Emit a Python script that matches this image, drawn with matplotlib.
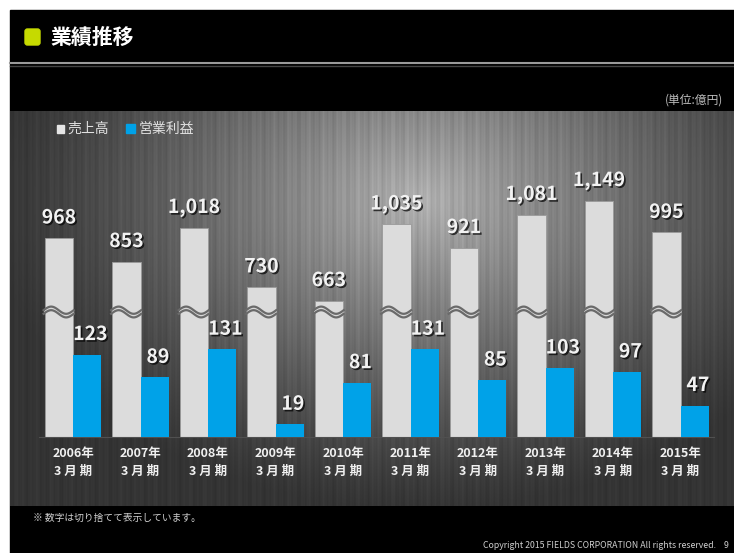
import matplotlib
matplotlib.use("Agg")
import matplotlib.pyplot as plt
import matplotlib.patheffects as pe
from matplotlib.patches import Rectangle, FancyBboxPatch
import numpy as np

plt.rcParams['font.family'] = ['Noto Sans CJK JP', 'DejaVu Sans']

# data (億円)
years = ["2006年", "2007年", "2008年", "2009年", "2010年",
         "2011年", "2012年", "2013年", "2014年", "2015年"]
sales = [968, 853, 1018, 730, 663, 1035, 921, 1081, 1149, 995]
op_profit = [123, 89, 131, 19, 81, 131, 85, 103, 97, 47]

W, H = 734, 553
fig = plt.figure(figsize=(W / 100, H / 100), dpi=100)
fig.patch.set_facecolor("white")

# background layer in pixel coords
bg = fig.add_axes([0, 0, 1, 1])
bg.set_xlim(0, W)
bg.set_ylim(H, 0)
bg.axis("off")
bg.add_patch(Rectangle((10, 10), W - 10, H - 10, color="black", zorder=0))

# gradient panel
px0, px1, py0, py1 = 10, W, 111, 506
xx, yy = np.meshgrid(np.arange(px0, px1), np.arange(py0, py1))
r = np.sqrt(((xx - 420) / 430.0) ** 2 + ((yy - 200) / 310.0) ** 2)
v = 52 + 125 * np.clip(1 - r, 0, 1) ** 1.2
cols = np.arange(px0, px1)
streak = 6 * np.sin(cols * 0.9) + 4 * np.sin(cols * 0.37 + 1.0) + 3 * np.sin(cols * 2.3)
v = v + streak[None, :] * (0.4 + 0.6 * np.clip(1 - r, 0, 1))
v = np.clip(v, 0, 255) / 255.0
img = np.dstack([v, v, v])
bg.imshow(img, extent=(px0, px1, py1, py0), aspect="auto", zorder=1, interpolation="bilinear")

# header
bg.plot([10, W], [63, 63], color="#9a9a9a", lw=1.5, zorder=2)
bg.plot([10, W], [65.5, 65.5], color="#444444", lw=1, zorder=2)
bg.add_patch(FancyBboxPatch((25, 29), 15, 16, boxstyle="round,pad=0,rounding_size=2.5",
                            color="#c6da00", zorder=3))
bg.text(50, 37, "業績推移", color="white", fontsize=15, fontweight="bold",
        va="center", ha="left", zorder=3)
bg.text(723, 100, "(単位:億円)", color="#bdbdbd", fontsize=8.5, va="center", ha="right", zorder=3)

# legend
bg.add_patch(Rectangle((57, 125), 7, 8, color="#e6e6e6", zorder=3))
bg.text(67, 129, "売上高", color="#e0e0e0", fontsize=10, va="center", ha="left", zorder=3)
bg.add_patch(Rectangle((126, 124), 9, 9, color="#00a2e8", zorder=3))
bg.text(139, 129, "営業利益", color="#e0e0e0", fontsize=10, va="center", ha="left", zorder=3)

# footer
bg.text(33, 518, "※ 数字は切り捨てて表示しています。", color="#d0d0d0", fontsize=7,
        va="center", ha="left", zorder=3)
bg.text(729, 545, "Copyright 2015 FIELDS CORPORATION All rights reserved.    9",
        color="#cfcfcf", fontsize=6.3, va="center", ha="right", zorder=3)

# main chart
x0_px, x1_px, base_px, top_px = 39.25, 714.25, 437, 150
ax = fig.add_axes([x0_px / W, 1 - base_px / H, (x1_px - x0_px) / W, (base_px - top_px) / H])
ax.patch.set_alpha(0)
ax2 = ax.twinx()
ax2.patch.set_alpha(0)

gray_scale = 0.2056  # px per 億円
blue_scale = 0.67
ax.set_ylim(0, (base_px - top_px) / gray_scale)
ax2.set_ylim(0, (base_px - top_px) / blue_scale)
ax.set_xlim(-0.5, len(years) - 0.5)

x = np.arange(len(years))
bw = 0.415
ax.bar(x - bw / 2, sales, width=bw, color="#dcdcdc", edgecolor="#9a9a9a", linewidth=0.6, zorder=2)
ax2.bar(x + bw / 2, op_profit, width=bw, color="#00a2e8", linewidth=0, zorder=2)

shadow = [pe.SimplePatchShadow(offset=(1.2, -1.2), shadow_rgbFace="black", alpha=0.7), pe.Normal()]
off_g = 20 / gray_scale
off_b = 20 / blue_scale
for i, s in enumerate(sales):
    ax.text(x[i] - bw / 2, s + off_g, f"{s:,}", ha="center", va="center", color="#f2f2f2",
            fontsize=14, fontweight="bold", path_effects=shadow, zorder=4)
for i, p in enumerate(op_profit):
    ax2.text(x[i] + bw / 2 + 0.05, p + off_b, f"{p:,}", ha="center", va="center", color="#f2f2f2",
             fontsize=14, fontweight="bold", path_effects=shadow, zorder=4)

# break marks on the sales bars
yb = (base_px - 312) / gray_scale
amp = 3.6 / gray_scale
gap = 3.6 / gray_scale
t = np.linspace(0, 1, 60)
for i in range(len(years)):
    xl = x[i] - bw - 0.02
    xr = x[i] + 0.01
    xs = xl + (xr - xl) * t
    wave = amp * np.sin(2 * np.pi * t)
    ax.fill_between(xs, yb + wave - gap / 2, yb + wave + gap / 2, color="#d8d8d8", zorder=3, lw=0)
    ax.plot(xs, yb + wave + gap / 2, color="#6a6a6a", lw=1.6, zorder=3)
    ax.plot(xs, yb + wave - gap / 2, color="#6a6a6a", lw=1.6, zorder=3)

for a in (ax, ax2):
    for sp in a.spines.values():
        sp.set_visible(False)
    a.set_yticks([])
ax.spines["bottom"].set_visible(True)
ax.spines["bottom"].set_color("#505050")
ax.spines["bottom"].set_linewidth(0.8)
ax.set_xticks(x)
ax.set_xticklabels([f"{y}\n3 月 期" for y in years], color="#f0f0f0", fontsize=9,
                   fontweight="bold", linespacing=1.55)
ax.tick_params(axis="x", length=0, pad=7)

fig.savefig("out.png", dpi=100, facecolor=fig.get_facecolor())
